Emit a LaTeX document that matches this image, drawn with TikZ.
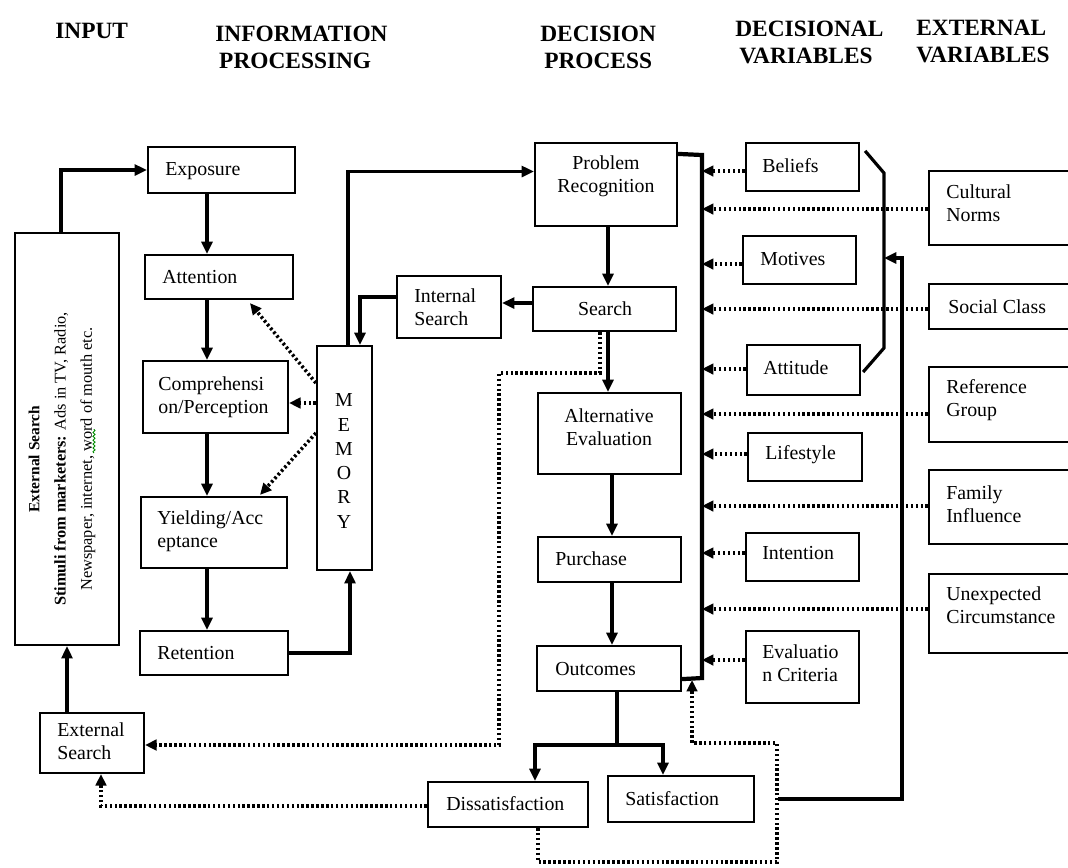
\documentclass[tikz,border=0pt]{standalone}
\usepackage{fontspec}
\setmainfont{Liberation Serif}
\usetikzlibrary{arrows.meta,calc,decorations.pathmorphing}

% a framed box given by its corners (pixel grid, y downwards)
\newcommand\mkbox[5]{\node[box, minimum width={(#4-#2)*0.02cm}, minimum height={(#5-#3)*0.02cm}] (#1) at ({(#2+#4)/2},{(#3+#5)/2}) {};}

\begin{document}
\begin{tikzpicture}[x=0.02cm,y=-0.02cm,
  box/.style={draw, line width=1.25pt, rectangle, inner sep=0pt},
  txt/.style={inner sep=0pt, font=\fontsize{11.3}{13.2}\selectfont, align=left},
  ctxt/.style={txt, align=center},
  hdr/.style={inner sep=0pt, font=\fontsize{13.3}{15.4}\selectfont\bfseries, align=left, anchor=west},
  tip/.style={-{Triangle[length=7pt,width=6.2pt]}},
  thk/.style={line width=2pt},
  conn/.style={thk, tip},
  dots/.style={line width=2pt, dash pattern=on 1.4pt off 1.4pt},
  dotarr/.style={dots, -{Triangle[length=6.5pt,width=6pt]}},
  bus/.style={line width=2.4pt}]

\useasboundingbox (0,0) rectangle (1068,867);
\clip (0,0) rectangle (1068,867);

% column headings
\node[hdr] (h-input) at (55,31) {INPUT};
\node[hdr] (h-info) at (215,47) {INFORMATION\\\,PROCESSING};
\node[hdr] (h-dec) at (540,47) {DECISION\\\,PROCESS};
\node[hdr] (h-decvar) at (735,42) {DECISIONAL\\\,VARIABLES};
\node[hdr] (h-extvar) at (916,41) {EXTERNAL\\VARIABLES};

% input
\mkbox{stimuli}{15}{233}{119}{645}
\node[inner sep=0pt, rotate=90, align=center, font=\fontsize{9.3}{15}\selectfont] (stimuli-t) at (62,459)
  {\textbf{\fontsize{8.8}{15}\selectfont External Search}\\
   \textbf{Stimuli from marketers:} Ads in TV, Radio,\\
   Newspaper, internet, word of mouth etc.};
\draw[green!55!black, line width=0.5pt, decorate, decoration={snake, amplitude=0.6pt, segment length=2.2pt}] (94,453) -- (94,429);
\mkbox{extsearch}{40}{713}{144}{773}
\node[txt, anchor=west] (extsearch-t) at (57,741) {External\\Search};

% information processing
\mkbox{exposure}{148}{147}{295}{193}
\node[txt, anchor=west] (exposure-t) at (165,171) {Exposure};
\mkbox{attention}{145}{255}{293}{299}
\node[txt, anchor=west] (attention-t) at (162,277) {Attention};
\mkbox{compr}{143}{361}{288}{433}
\node[txt, anchor=west] (compr-t) at (158,397) {Comprehensi\\on/Perception};
\mkbox{yield}{141}{497}{287}{568}
\node[txt, anchor=west] (yield-t) at (157,531) {Yielding/Acc\\eptance};
\mkbox{retention}{140}{631}{288}{675}
\node[txt, anchor=west] (retention-t) at (157,653) {Retention};
\mkbox{memory}{317}{346}{372}{570}
\node[ctxt, font=\fontsize{11.3}{13.8}\selectfont] (memory-t) at (344,461) {M\\E\\M\\O\\R\\Y};
\mkbox{intsearch}{397}{276}{501}{338}
\node[txt, anchor=west] (intsearch-t) at (414,307) {Internal\\Search};

% decision process
\mkbox{problem}{535}{143}{677}{226}
\node[ctxt] (problem-t) at (606,176) {Problem\\Recognition};
\mkbox{search}{533}{287}{676}{331}
\node[ctxt] (search-t) at (605,309) {Search};
\mkbox{alteval}{538}{393}{681}{474}
\node[ctxt] (alteval-t) at (609,427) {Alternative\\Evaluation};
\mkbox{purchase}{538}{537}{681}{582}
\node[txt, anchor=west] (purchase-t) at (555,559) {Purchase};
\mkbox{outcomes}{537}{646}{681}{691}
\node[txt, anchor=west] (outcomes-t) at (555,669) {Outcomes};
\mkbox{dissat}{428}{782}{588}{827}
\node[txt, anchor=west] (dissat-t) at (446,804) {Dissatisfaction};
\mkbox{sat}{608}{776}{754}{822}
\node[txt, anchor=west] (sat-t) at (625,799) {Satisfaction};

% decisional variables
\mkbox{beliefs}{746}{143}{859}{191}
\node[txt, anchor=west] (beliefs-t) at (762,166) {Beliefs};
\mkbox{motives}{743}{236}{856}{284}
\node[txt, anchor=west] (motives-t) at (760,259) {Motives};
\mkbox{attitude}{747}{345}{860}{395}
\node[txt, anchor=west] (attitude-t) at (763,368) {Attitude};
\mkbox{lifestyle}{748}{433}{862}{481}
\node[txt, anchor=west] (lifestyle-t) at (765,455) {Lifestyle};
\mkbox{intention}{746}{533}{859}{581}
\node[txt, anchor=west] (intention-t) at (762,553) {Intention};
\mkbox{evalcrit}{746}{631}{859}{703}
\node[txt, anchor=west] (evalcrit-t) at (762,663) {Evaluatio\\n Criteria};

% external variables
\mkbox{cultural}{929}{171}{1074}{245}
\node[txt, anchor=west] (cultural-t) at (946,203) {Cultural\\Norms};
\mkbox{social}{929}{284}{1074}{329}
\node[txt, anchor=west] (social-t) at (948,307) {Social Class};
\mkbox{refgroup}{929}{367}{1074}{442}
\node[txt, anchor=west] (refgroup-t) at (946,400) {Reference\\Group};
\mkbox{family}{929}{470}{1074}{544}
\node[txt, anchor=west] (family-t) at (946,504) {Family\\Influence};
\mkbox{unexpected}{929}{574}{1074}{653}
\node[txt, anchor=west] (unexpected-t) at (946,605) {Unexpected\\Circumstance};

% routing columns and corners
\coordinate (colI) at (207,0);
\coordinate (colD1) at (608,0);
\coordinate (colD2) at (612,0);
\coordinate (mL) at (348,0);
\coordinate (mR) at (360,0);
\coordinate (mB) at (350,0);
\coordinate (busT) at (702,155);
\coordinate (busB) at (702,678);
\coordinate (brT) at (884,173);
\coordinate (brB) at (884,348);
\coordinate (fb) at (902,0);

% input to information processing
\draw[conn] ($(stimuli.north)+(-6,0)$) |- (exposure.west);
\draw[conn] (extsearch.north -| stimuli.south) -- (stimuli.south);

% information processing chain
\draw[conn] (colI |- exposure.south) -- (colI |- attention.north);
\draw[conn] (colI |- attention.south) -- (colI |- compr.north);
\draw[conn] (colI |- compr.south) -- (colI |- yield.north);
\draw[conn] (colI |- yield.south) -- (colI |- retention.north);
\draw[conn] (retention.east) -| (mB |- memory.south);
\draw[dotarr] ($(memory.west)+(0,-75)$) -- ($(attention.south)+(31,3)$);
\draw[dotarr] ($(memory.west)+(0,-55)$) -- (compr.east |- 0,403);
\draw[dotarr] ($(memory.west)+(0,-25)$) -- ($(yield.north)+(46,-1)$);
\draw[conn] (mL |- memory.north) |- ($(problem.west)+(0,-13)$);
\draw[conn] ($(search.west)+(0,-6)$) -- ($(search.west -| intsearch.east)+(0,-6)$);
\draw[conn] ($(intsearch.west)+(0,-10)$) -| (mR |- memory.north);

% decision process chain
\draw[conn] (colD1 |- problem.south) -- (colD1 |- search.north);
\draw[conn] (colD1 |- search.south) -- (colD1 |- alteval.north);
\draw[conn] (colD2 |- alteval.south) -- (colD2 |- purchase.north);
\draw[conn] (colD2 |- purchase.south) -- (colD2 |- outcomes.north);

% search to external search
\coordinate (s1) at (600,373);
\coordinate (s2) at (499,373);
\coordinate (s3) at (499,745);
\draw[dotarr] (s1 |- search.south) -- (s1) -- (s2) -- (s3) -- (extsearch.east |- s3);

% outcomes split
\coordinate (spl) at (617,745);
\coordinate (dL) at (535,0);
\coordinate (sR) at (663,0);
\draw[thk] (spl |- outcomes.south) -- (spl);
\draw[conn] (spl) -| (dL |- dissat.north);
\draw[conn] (spl) -| (sR |- sat.north);

% dissatisfaction feedback
\draw[dotarr] (dissat.west |- 0,806) -| ($(extsearch.south)+(9,0)$);
\coordinate (d1) at (538,862);
\coordinate (d2) at (777,862);
\coordinate (d3) at (777,743);
\coordinate (d4) at (692,743);
\draw[dotarr] (d1 |- dissat.south) -- (d1) -- (d2) -- (d3) -- (d4) -- ($(d4 |- busB)+(0,2)$);

% satisfaction feedback to decisional variables
\draw[thk, tip] (778,799) -- (fb |- 0,799) -- (fb |- 0,258) -- (brT |- 0,258);

% collecting bus beside the decision process
\draw[bus] ($(problem.north east)+(0,12)$) -- (busT) -- (busB) -- ($(outcomes.south east)+(0,-13)$);

% bracket grouping beliefs, motives and attitude
\draw[line width=1.8pt] ($(beliefs.north east)+(5,9)$) -- (brT) -- (brB) -- ($(attitude.east)+(2,2)$);

% influences on the decision process
\draw[dotarr] ($(beliefs.west)+(0,4)$) -- (busT |- 0,171);
\draw[dotarr] (cultural.west |- 0,209) -- (busT |- 0,209);
\draw[dotarr] ($(motives.west)+(0,4)$) -- (busT |- 0,264);
\draw[dotarr] (social.west |- 0,309) -- (busT |- 0,309);
\draw[dotarr] (attitude.west |- 0,369) -- (busT |- 0,369);
\draw[dotarr] (refgroup.west |- 0,414) -- (busT |- 0,414);
\draw[dotarr] (lifestyle.west |- 0,454) -- (busT |- 0,454);
\draw[dotarr] (family.west |- 0,506) -- (busT |- 0,506);
\draw[dotarr] (intention.west |- 0,553) -- (busT |- 0,553);
\draw[dotarr] (unexpected.west |- 0,609) -- (busT |- 0,609);
\draw[dotarr] (evalcrit.west |- 0,660) -- (busT |- 0,660);

\end{tikzpicture}
\end{document}
